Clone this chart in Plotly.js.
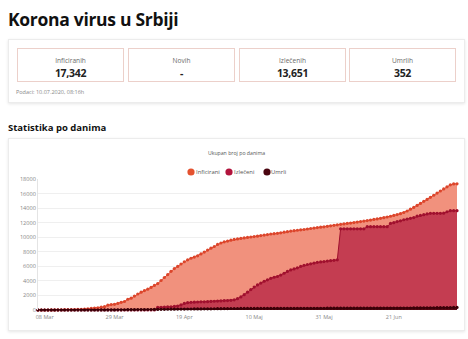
<!DOCTYPE html>
<html><head><meta charset="utf-8">
<script src="https://cdn.plot.ly/plotly-3.0.1.min.js"></script>
<style>
html,body{margin:0;padding:0;background:#fff;}
body{width:468px;height:339px;position:relative;overflow:hidden;font-family:'Open Sans',sans-serif;color:#222;}
#h1{position:absolute;left:8px;top:10.7px;font-size:17.5px;line-height:17.5px;font-weight:700;letter-spacing:-0.3px;color:#111;white-space:nowrap;}
.card{position:absolute;background:#fff;border:1px solid #ececec;box-shadow:0 1px 3px rgba(0,0,0,0.10);box-sizing:border-box;}
.box{position:absolute;top:48px;width:107px;height:34px;border:1px solid #ecd0ca;box-sizing:border-box;background:#fff;}
.lbl{position:absolute;left:0;right:0;top:8px;line-height:8px;font-size:6.6px;color:#6a6a6a;text-align:center;white-space:nowrap;}
.val{position:absolute;left:0;right:0;top:17.7px;line-height:12px;font-size:10.5px;font-weight:700;color:#222;text-align:center;letter-spacing:-0.3px;white-space:nowrap;}
#podaci{position:absolute;left:16px;top:89px;font-size:5.5px;line-height:6px;color:#888;white-space:nowrap;}
#h2{position:absolute;left:8px;top:122.5px;font-size:9.5px;line-height:10px;font-weight:700;color:#111;white-space:nowrap;}
#chart{position:absolute;left:9px;top:139px;width:455px;height:191px;}
</style>
</head>
<body>
<div id="h1">Korona virus u Srbiji</div>
<div class="card" style="left:8px;top:39px;width:457px;height:64px;"></div>
<div id="boxes"></div>
<div id="podaci">Podaci: 10.07.2020, 08:16h</div>
<div id="h2">Statistika po danima</div>
<div class="card" style="left:8px;top:138px;width:457px;height:193px;"></div>
<div id="chart"></div>
<script>
// ---- summary boxes ----
const statLabels = ['Inficiranih', 'Novih', 'Izlečenih', 'Umrlih'];
const statValues = ['17,342', '-', '13,651', '352'];

// ---- chart data (daily, 06 Mar 2020 .. 10 Jul 2020) ----
const startDate = '2020-03-06';
const inficirani = [
 1,1,1,1,5,12,19,35,46,48,
 55,65,83,103,135,171,222,249,303,384,
 457,659,741,785,900,1060,1171,1476,1624,1908,
 2200,2447,2666,2867,3105,3380,3630,4054,4465,4873,
 5318,5690,5994,6318,6630,6890,7114,7276,7450,7700,
 7960,8230,8497,8724,9009,9205,9362,9464,9600,9700,
 9770,9840,9900,9970,10030,10090,10150,10230,10290,10370,
 10440,10490,10540,10610,10690,10760,10840,10900,10960,11010,
 11060,11130,11200,11260,11320,11380,11430,11500,11560,11630,
 11700,11770,11830,11890,11950,12010,12080,12150,12220,12290,
 12360,12440,12520,12600,12690,12780,12880,12990,13110,13240,
 13400,13600,13850,14100,14370,14650,14930,15200,15480,15770,
 16060,16350,16640,16930,17200,17330,17342
];
const izleceni = [
 0,0,0,0,0,0,0,0,0,0,
 0,0,0,0,0,0,0,0,0,0,
 0,0,0,0,0,0,0,0,0,0,
 0,0,0,0,0,0,370,370,400,420,
 450,500,550,700,900,1000,1050,1080,1100,1120,
 1130,1150,1180,1200,1230,1250,1280,1300,1330,1400,
 1550,1800,2100,2450,2800,3150,3450,3700,3950,4150,
 4350,4500,4600,4800,5050,5300,5500,5650,5800,6000,
 6150,6250,6350,6450,6550,6600,6650,6720,6780,6830,
 6900,11150,11150,11150,11150,11150,11150,11150,11150,11450,
 11450,11450,11450,11450,11450,11450,11900,12000,12150,12250,
 12400,12500,12600,12700,12900,13000,13100,13200,13280,13280,
 13280,13280,13300,13500,13651,13651,13651
];
const umrli = [
 0,0,0,0,0,0,0,0,0,0,
 0,0,0,0,1,1,2,3,3,4,
 4,10,13,16,23,28,31,39,44,51,
 58,61,65,66,71,74,85,94,99,103,
 110,117,122,125,130,134,139,144,147,151,
 158,162,168,173,179,183,193,200,203,209,
 209,211,215,218,220,222,225,227,228,230,
 230,231,232,233,234,235,236,237,238,238,
 239,239,240,241,242,243,243,244,245,245,
 246,246,247,248,249,249,250,251,252,252,
 253,254,255,256,258,260,262,263,265,268,
 270,273,276,279,282,287,293,300,307,311,
 317,323,330,335,341,347,352
];
const seriesNames = ['Inficirani', 'Izlečeni', 'Umrli'];
const tickDates = ['2020-03-08','2020-03-29','2020-04-19','2020-05-10','2020-05-31','2020-06-21'];
const tickLabels = ['08 Mar','29 Mar','19 Apr','10 Maj','31 Maj','21 Jun'];
const chartTitle = 'Ukupan broj po danima';

// build boxes
const boxLeft = [17, 128, 239, 349];
const boxesEl = document.getElementById('boxes');
statLabels.forEach((l, i) => {
  const b = document.createElement('div');
  b.className = 'box';
  b.style.left = boxLeft[i] + 'px';
  b.innerHTML = '<div class="lbl"></div><div class="val"></div>';
  b.querySelector('.lbl').textContent = l;
  b.querySelector('.val').textContent = statValues[i];
  boxesEl.appendChild(b);
});

// dates
const dates = [];
{
  const d0 = new Date(startDate + 'T00:00:00Z');
  for (let i = 0; i < inficirani.length; i++) {
    const d = new Date(d0.getTime() + i * 86400000);
    dates.push(d.toISOString().slice(0, 10));
  }
}

const fillColors = ['#f1917d', '#c43d51', '#5a0a16'];
const dotColors = ['#dc452b', '#a0102e', '#3a0008'];
const legendColors = ['#e4522f', '#b2143d', '#4a0510'];
const ys = [inficirani, izleceni, umrli];

const traces = ys.map((y, i) => ({
  x: dates, y: y, type: 'scatter', mode: 'lines+markers',
  name: seriesNames[i], fill: 'tozeroy', fillcolor: fillColors[i],
  line: {color: dotColors[i], width: 1},
  marker: {color: dotColors[i], size: 3.2},
  cliponaxis: false, hoverinfo: 'skip', showlegend: false
}));

const W = 455, H = 191;
const M = {l: 29, r: 7, t: 40, b: 20};
const pw = W - M.l - M.r, ph = H - M.t - M.b;
const px2x = p => (p - M.l) / pw;
const py2y = p => (H - M.b - p) / ph;

const legCircle = [182, 220, 258];
const legText = [186, 224, 261];
const legY = 33;

const shapes = seriesNames.map((n, i) => ({
  type: 'circle', xref: 'paper', yref: 'paper',
  xsizemode: 'pixel', ysizemode: 'pixel',
  xanchor: px2x(legCircle[i]), yanchor: py2y(legY),
  x0: -3.6, x1: 3.6, y0: -3.6, y1: 3.6,
  fillcolor: legendColors[i], line: {width: 0}
}));
const annotations = seriesNames.map((n, i) => ({
  xref: 'paper', yref: 'paper', x: px2x(legText[i]), y: py2y(legY),
  xanchor: 'left', yanchor: 'middle', text: n, showarrow: false,
  borderpad: 0, font: {family: 'Open Sans', size: 5.9, color: '#555'}
}));

const layout = {
  width: W, height: H,
  margin: {l: M.l, r: M.r, t: M.t, b: M.b, pad: 0},
  paper_bgcolor: 'rgba(0,0,0,0)', plot_bgcolor: 'rgba(0,0,0,0)',
  font: {family: 'Open Sans', color: '#888'},
  showlegend: false,
  title: {text: chartTitle, font: {family: 'Open Sans', size: 5.2, color: '#555'},
          x: 0.5, xref: 'container', xanchor: 'center',
          y: 1 - 14 / H, yref: 'container', yanchor: 'middle'},
  xaxis: {type: 'date', range: [dates[0], dates[dates.length - 1]],
          tickmode: 'array', tickvals: tickDates, ticktext: tickLabels,
          showgrid: false, zeroline: false, showline: false, ticks: '',
          ticklabelstandoff: 2,
          tickfont: {family: 'Open Sans', size: 5.5, color: '#888'}, fixedrange: true},
  yaxis: {range: [0, 18000], dtick: 2000, tickformat: 'd',
          gridcolor: '#efefef', gridwidth: 1, zeroline: false,
          showline: true, linecolor: '#e4e4e4', linewidth: 1, ticks: '',
          tickfont: {family: 'Open Sans', size: 5.6, color: '#888'}, fixedrange: true},
  shapes: shapes,
  annotations: annotations
};

Plotly.newPlot('chart', traces, layout, {displayModeBar: false, staticPlot: true});
</script>
</body>
</html>
